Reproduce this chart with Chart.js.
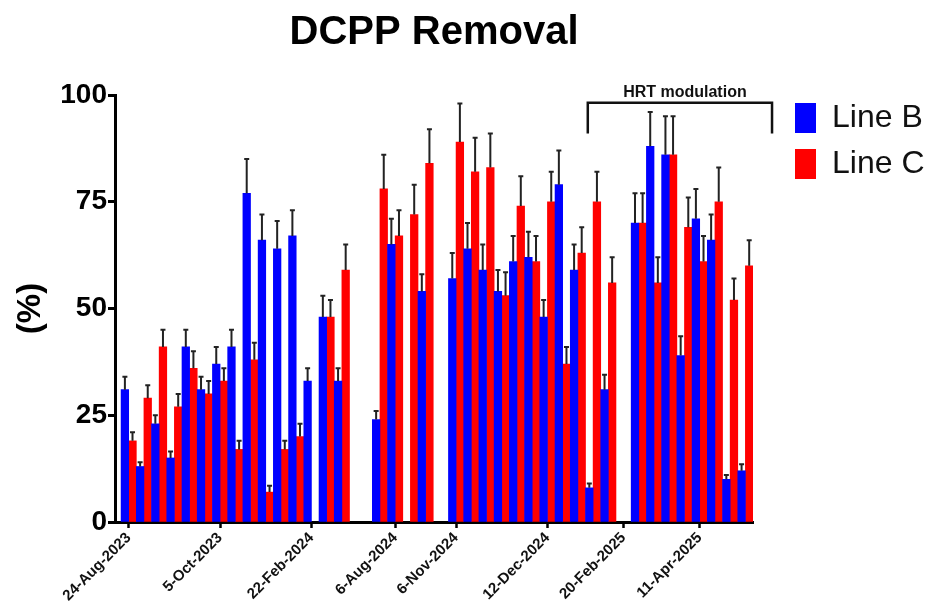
<!DOCTYPE html>
<html lang="en">
<head>
    <meta charset="UTF-8">
    <meta name="viewport" content="width=device-width, initial-scale=1.0">
    <title>DCPP Removal</title>
    <script src="https://cdn.jsdelivr.net/npm/chart.js@4"></script>
    <style>
        html, body { margin: 0; padding: 0; background: #fff; }
        #wrap { width: 931px; height: 612px; }
    </style>
</head>
<body>
    <div id="wrap"><canvas id="removalChart"></canvas></div>
    <script>
        // One bar per slot along the x axis, null where that line has no bar.
        const lineB = [
            31, null, 13, null, 23, null, 15, null, 41, null,
            31, null, 37, null, 41, null, 77, null, 66, null,
            64, null, 67, null, 33, null, 48, null, 33, null,
            null, null, null, 24, null, 65, null, null, null, 54,
            null, null, null, 57, null, 64, null, 59, null, 54,
            null, 61, null, 62, null, 48, null, 79, null, 59,
            null, 8, null, 31, null, null, null, 70, null, 88,
            null, 86, null, 39, null, 71, null, 66, null, 10,
            null, 12, null
        ];
        const lineBErr = [
            3, null, 1, null, 2, null, 1.5, null, 4, null,
            3, null, 4, null, 4, null, 8, null, 6, null,
            6.5, null, 6, null, 3, null, 5, null, 3, null,
            null, null, null, 2, null, 6, null, null, null, 4,
            null, null, null, 6, null, 6, null, 6, null, 5,
            null, 6, null, 6, null, 4, null, 8, null, 6,
            null, 1, null, 3.5, null, null, null, 7, null, 8,
            null, 9, null, 4.5, null, 7, null, 6, null, 1,
            null, 1.5, null
        ];
        const lineC = [
            null, 19, null, 29, null, 41, null, 27, null, 36,
            null, 30, null, 33, null, 17, null, 38, null, 7,
            null, 17, null, 20, null, null, null, 48, null, 59,
            null, null, null, null, 78, null, 67, null, 72, null,
            84, null, null, null, 89, null, 82, null, 83, null,
            53, null, 74, null, 61, null, 75, null, 37, null,
            63, null, 75, null, 56, null, null, null, 70, null,
            56, null, 86, null, 69, null, 61, null, 75, null,
            52, null, 60
        ];
        const lineCErr = [
            null, 2, null, 3, null, 4, null, 3, null, 4,
            null, 3, null, 3, null, 2, null, 4, null, 1.5,
            null, 2, null, 3, null, null, null, 4, null, 6,
            null, null, null, null, 8, null, 6, null, 7, null,
            8, null, null, null, 9, null, 8, null, 8, null,
            5.5, null, 7, null, 6, null, 7, null, 4, null,
            6, null, 7, null, 6, null, null, null, 7, null,
            6, null, 9, null, 7, null, 6, null, 8, null,
            5, null, 6
        ];

        // date labels and the slot boundary each one sits on
        const tickLabels = ['24-Aug-2023', '5-Oct-2023', '22-Feb-2024', '6-Aug-2024',
            '6-Nov-2024', '12-Dec-2024', '20-Feb-2025', '11-Apr-2025'];
        const tickSlots = [1, 13, 25, 36, 44, 56, 66, 76];
        const yTicks = [0, 25, 50, 75, 100];

        // bracket over the HRT period (x in slots, y in %)
        const hrtLabel = 'HRT modulation';
        const hrtSpan = [61.3, 85.5];
        const hrtLevels = [98.2, 91];

        const slotCentres = lineB.map((_, i) => i + 0.5);
        const FONT = 'Arial, "Liberation Sans", Helvetica, sans-serif';
        Chart.defaults.font.family = FONT;
        Chart.defaults.color = '#000';

        const errorBars = {
            id: 'errorBars',
            afterDatasetsDraw(chart) {
                const ctx = chart.ctx;
                const y = chart.scales.y;
                ctx.save();
                ctx.strokeStyle = '#222';
                ctx.lineWidth = 2;
                chart.data.datasets.forEach((ds, di) => {
                    chart.getDatasetMeta(di).data.forEach((bar, i) => {
                        const v = ds.data[i], e = ds.errors[i];
                        if (v == null || e == null) return;
                        const top = y.getPixelForValue(v + e);
                        ctx.beginPath();
                        ctx.moveTo(bar.x, bar.y);
                        ctx.lineTo(bar.x, top);
                        ctx.moveTo(bar.x - 2.5, top);
                        ctx.lineTo(bar.x + 2.5, top);
                        ctx.stroke();
                    });
                });
                ctx.restore();
            }
        };

        const hrtBracket = {
            id: 'hrtBracket',
            afterDraw(chart) {
                const { ctx, scales: { x, y } } = chart;
                const x0 = x.getPixelForValue(hrtSpan[0]);
                const x1 = x.getPixelForValue(hrtSpan[1]);
                const yTop = y.getPixelForValue(hrtLevels[0]);
                const yFoot = y.getPixelForValue(hrtLevels[1]);
                ctx.save();
                ctx.strokeStyle = '#111';
                ctx.lineWidth = 2.5;
                ctx.beginPath();
                ctx.moveTo(x0, yFoot);
                ctx.lineTo(x0, yTop);
                ctx.lineTo(x1, yTop);
                ctx.lineTo(x1, yFoot);
                ctx.stroke();
                ctx.fillStyle = '#111';
                ctx.font = 'bold 16px ' + FONT;
                ctx.textAlign = 'center';
                ctx.textBaseline = 'bottom';
                ctx.fillText(hrtLabel, (x0 + x1) / 2 + 5, yTop - 2);
                ctx.restore();
            }
        };

        // key sits to the right of the plot, clear of the bracket
        const keyPlacement = {
            id: 'keyPlacement',
            beforeInit(chart) {
                const legend = chart.legend;
                const fit = legend.fit;
                legend.fit = function () {
                    fit.call(this);
                    this.width = 178;
                };
            },
            afterLayout(chart) {
                chart.legend.left = chart.chartArea.right + 28;
                chart.legend.top = chart.chartArea.top - 7;
            }
        };

        new Chart(document.getElementById('removalChart'), {
            type: 'bar',
            data: {
                labels: slotCentres,
                datasets: [
                    { label: 'Line B', data: lineB, errors: lineBErr, backgroundColor: '#0000ff' },
                    { label: 'Line C', data: lineC, errors: lineCErr, backgroundColor: '#ff0000' }
                ]
            },
            options: {
                responsive: true,
                maintainAspectRatio: false,
                animation: false,
                devicePixelRatio: 1,
                datasets: {
                    bar: { grouped: false, barPercentage: 1, categoryPercentage: 1, borderWidth: 0 }
                },
                layout: { padding: 0 },
                scales: {
                    x: {
                        type: 'linear',
                        min: -0.8,
                        max: 83,
                        offset: false,
                        afterBuildTicks: s => { s.ticks = tickSlots.map(v => ({ value: v })); },
                        afterFit: s => { s.height = 90; },
                        grid: { drawOnChartArea: false, offset: false, tickLength: 6, tickWidth: 2.5, tickColor: '#000' },
                        border: { color: '#000', width: 3 },
                        ticks: {
                            autoSkip: false,
                            minRotation: 45,
                            maxRotation: 45,
                            padding: 1,
                            color: '#111',
                            font: { size: 15, weight: 'bold' },
                            callback: (v, i) => tickLabels[i]
                        }
                    },
                    y: {
                        min: 0,
                        max: 100,
                        afterBuildTicks: s => { s.ticks = yTicks.map(v => ({ value: v })); },
                        afterFit: s => { s.width = 115; },
                        grid: { drawOnChartArea: false, tickLength: 7, tickWidth: 3, tickColor: '#000' },
                        border: { color: '#000', width: 3 },
                        ticks: { padding: 1, color: '#000', font: { size: 28, weight: 'bold' } },
                        title: {
                            display: true,
                            text: '(%)',
                            color: '#000',
                            font: { size: 33, weight: 'bold' },
                            padding: { top: 11, bottom: 0 }
                        }
                    }
                },
                plugins: {
                    tooltip: { enabled: false },
                    title: {
                        display: true,
                        text: 'DCPP Removal',
                        fullSize: false,
                        color: '#000',
                        font: { size: 40, weight: 'bold' },
                        padding: { top: 9, bottom: 38 }
                    },
                    legend: {
                        position: 'right',
                        align: 'start',
                        fullSize: false,
                        labels: {
                            boxWidth: 21,
                            boxHeight: 30,
                            padding: 14,
                            color: '#111',
                            font: { size: 32 }
                        }
                    }
                }
            },
            plugins: [errorBars, hrtBracket, keyPlacement]
        });
    </script>
</body>
</html>
